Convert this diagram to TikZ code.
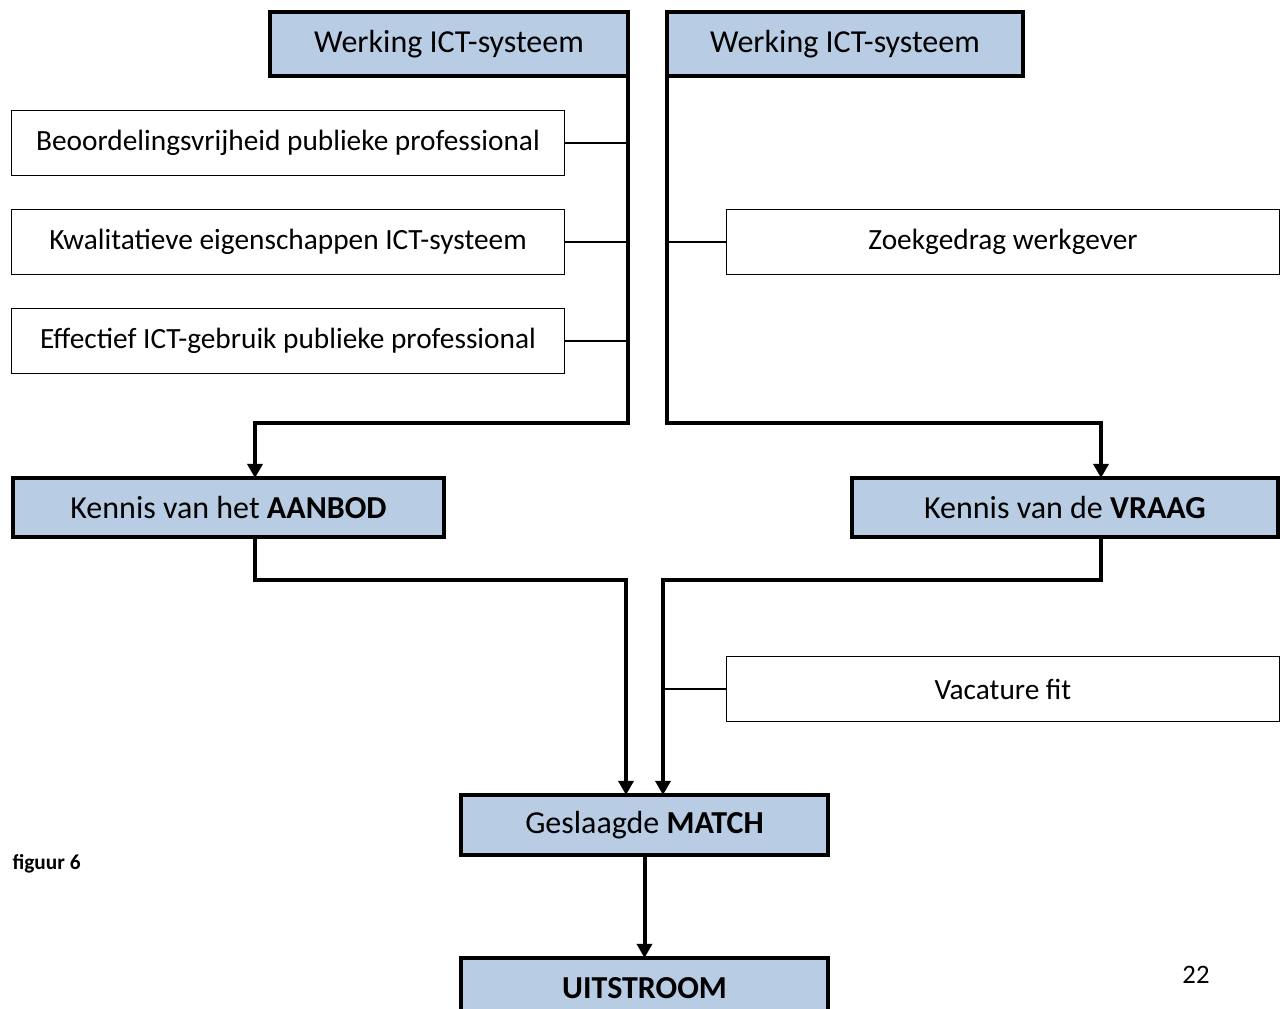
\documentclass[tikz,border=0pt]{standalone}
\usepackage{fontspec}
\setmainfont{Carlito}
\usetikzlibrary{arrows.meta}
\definecolor{lichtblauw}{HTML}{B8CCE4}
\tikzset{
	vak/.style = {rectangle, align=center, inner sep=0pt, outer sep=0pt,
		text centered, font=\fontsize{12}{14}\selectfont},
	vak_b/.style = {vak, draw=black, fill=lichtblauw, line width=1.5pt},% blauw vak, dikke rand
	vak_w/.style = {vak, draw=black, fill=white, line width=0.6pt,
		font=\fontsize{11}{13}\selectfont,
		minimum width=207.4pt, minimum height=24.4pt},% wit vak, dunne rand
	lijn_d/.style = {line width=1.5pt},% dikke lijn
	lijn_t/.style = {line width=0.6pt}% dunne lijn
}
\begin{document}
\begin{tikzpicture}[x=0.375pt, y=-0.375pt, >={Triangle[length=5.3pt,width=5.6pt]}]
	\useasboundingbox (0,0) rectangle (1286,1008);
	% bovenste vakken
	\node[vak_b, minimum width=134.25pt, minimum height=24pt] (w1) at (449,44) {Werking ICT-systeem};
	\node[vak_b, minimum width=133.5pt, minimum height=24pt] (w2) at (845,44) {Werking ICT-systeem};
	% factoren
	\node[vak_w] (b1) at (288,143) {Beoordelingsvrijheid publieke professional};
	\node[vak_w] (b2) at (288,242) {Kwalitatieve eigenschappen ICT-systeem};
	\node[vak_w] (b3) at (288,341) {Effectief ICT-gebruik publieke professional};
	\node[vak_w] (z) at (1003,242) {Zoekgedrag werkgever};
	\node[vak_w] (v) at (1003,689) {Vacature fit};
	% kennis
	\node[vak_b, minimum width=161.6pt, minimum height=22.1pt] (k1) at (228.5,507.5) {Kennis van het \textbf{AANBOD}};
	\node[vak_b, minimum width=159.75pt, minimum height=22.1pt] (k2) at (1065,507.5) {Kennis van de \textbf{VRAAG}};
	% match en uitstroom
	\node[vak_b, minimum width=137.6pt, minimum height=22.5pt] (m) at (644.5,825) {Geslaagde \textbf{MATCH}};
	\node[vak_b, minimum width=137.6pt, minimum height=22.5pt] (u) at (644.5,988) {\textbf{UITSTROOM}};
	\node[anchor=west, inner sep=0pt, font=\fontsize{8}{10}\bfseries\selectfont] (fig) at (12,864) {figuur 6};
	\node[inner sep=0pt, font=\fontsize{10}{12}\selectfont] (pag) at (1196,975) {22};
	% knikpunten
	\coordinate (l2) at (255,423);
	\coordinate (r2) at (1101,423);
	\coordinate (l3) at (255,580);
	\coordinate (r3) at (1101,580);
	\coordinate (a1) at (626,580);
	\coordinate (a2) at (663,580);
	% verbindingen
	\draw[lijn_d,->] (w1.south east) -- (w1.south east |- l2) -- (l2) -- (l2 |- k1.north);
	\draw[lijn_d,->] (w2.south west) -- (w2.south west |- r2) -- (r2) -- (r2 |- k2.north);
	\draw[lijn_t] (b1.east) -- (b1.east -| w1.south east);
	\draw[lijn_t] (b2.east) -- (b2.east -| w1.south east);
	\draw[lijn_t] (b3.east) -- (b3.east -| w1.south east);
	\draw[lijn_t] (z.west) -- (z.west -| w2.south west);
	\draw[lijn_d,->] (l3 |- k1.south) -- (l3) -- (a1) -- (a1 |- m.north);
	\draw[lijn_d,->] (r3 |- k2.south) -- (r3) -- (a2) -- (a2 |- m.north);
	\draw[lijn_t] (v.west) -- (v.west -| a2);
	\draw[lijn_d,->] (m.south) -- (u.north);
\end{tikzpicture}
\end{document}
